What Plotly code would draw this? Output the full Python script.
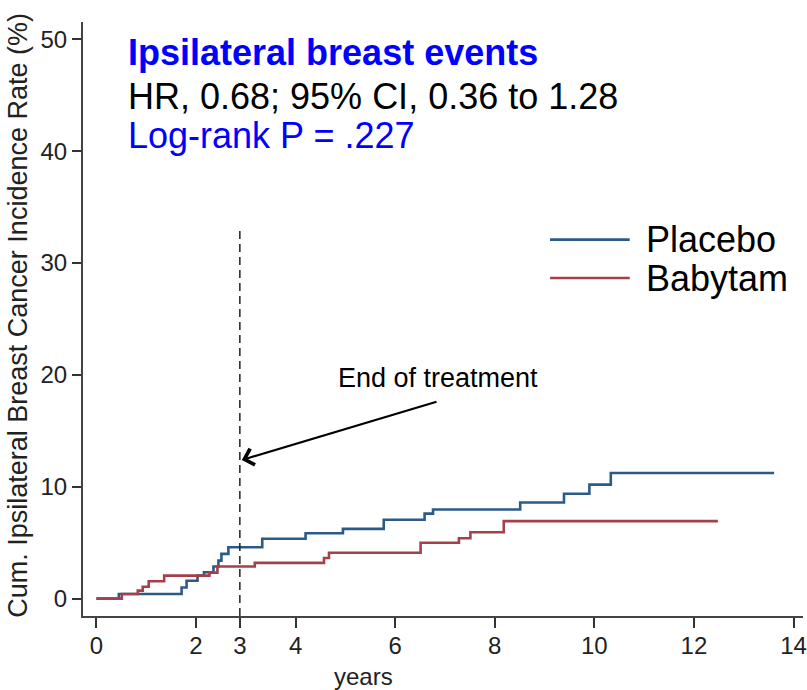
import plotly.graph_objects as go

# ---- data ----
placebo_t = [0, 0.45, 1.71, 1.81, 2.03, 2.16, 2.35, 2.45, 2.51, 2.65, 3.33, 4.20, 4.95, 5.77, 6.59, 6.76, 8.51, 9.39, 9.90, 10.33, 13.61]
placebo_v = [0, 0.42, 1.00, 1.60, 2.06, 2.36, 2.87, 3.40, 4.00, 4.60, 5.35, 5.85, 6.24, 7.05, 7.60, 7.97, 8.60, 9.38, 10.19, 11.23, 11.23]

babytam_t = [0, 0.51, 0.83, 0.93, 1.05, 1.36, 2.27, 2.43, 3.18, 4.57, 4.67, 6.51, 7.28, 7.51, 8.18, 12.48]
babytam_v = [0, 0.42, 0.72, 1.07, 1.55, 2.06, 2.33, 2.87, 3.20, 3.64, 4.10, 5.00, 5.40, 5.94, 6.93, 6.93]

series_names = ["Placebo", "Babytam"]
end_of_treatment = 2.88          # position of the "3" mark / dashed line as drawn
x_tickvals = [0, 2, end_of_treatment, 4, 6, 8, 10, 12, 14]
x_ticktext = ["0", "2", "3", "4", "6", "8", "10", "12", "14"]
y_ticks = [0, 10, 20, 30, 40, 50]
title_lines = ["Ipsilateral breast events", "HR, 0.68; 95% CI, 0.36 to 1.28", "Log-rank P = .227"]

BLUE = "#2b5a89"
RED = "#a5404b"
FONT = "Liberation Sans, Arial, Helvetica, sans-serif"

fig = go.Figure()
fig.add_trace(go.Scatter(x=placebo_t, y=placebo_v, mode="lines", line_shape="hv",
                         line=dict(color=BLUE, width=2.6), name=series_names[0], showlegend=False))
fig.add_trace(go.Scatter(x=babytam_t, y=babytam_v, mode="lines", line_shape="hv",
                         line=dict(color=RED, width=2.6), name=series_names[1], showlegend=False))

# end of treatment dashed line
fig.add_shape(type="line", x0=end_of_treatment, x1=end_of_treatment, y0=-1.55, y1=33.1,
              xref="x", yref="y", line=dict(color="#222222", width=1.5, dash="8px,5px"))

# manual legend
leg_y = [32.1, 28.66]
leg_col = [BLUE, RED]
for name, yy, c in zip(series_names, leg_y, leg_col):
    fig.add_shape(type="line", x0=9.11, x1=10.71, y0=yy, y1=yy, xref="x", yref="y",
                  line=dict(color=c, width=2.6))
    fig.add_annotation(x=11.0, y=yy, xref="x", yref="y", text=name, showarrow=False,
                       xanchor="left", yanchor="middle",
                       font=dict(family=FONT, size=36, color="black"))

# title block
fig.add_annotation(x=0.6, y=48.8, xref="x", yref="y", text="<b>" + title_lines[0] + "</b>",
                   showarrow=False, xanchor="left", yanchor="middle",
                   font=dict(family=FONT, size=36, color="#0000ff"))
fig.add_annotation(x=0.6, y=44.9, xref="x", yref="y", text=title_lines[1],
                   showarrow=False, xanchor="left", yanchor="middle",
                   font=dict(family=FONT, size=36, color="black"))
fig.add_annotation(x=0.6, y=41.4, xref="x", yref="y", text=title_lines[2],
                   showarrow=False, xanchor="left", yanchor="middle",
                   font=dict(family=FONT, size=36, color="#0000ff"))

# End of treatment arrow + label
fig.add_annotation(x=2.92, y=12.4, ax=6.86, ay=17.64, xref="x", yref="y", axref="x", ayref="y",
                   text="", showarrow=True, arrowhead=4, arrowsize=1.5, arrowwidth=2.2,
                   arrowcolor="black")
fig.add_annotation(x=6.86, y=19.7, xref="x", yref="y", text="End of treatment",
                   showarrow=False, xanchor="center", yanchor="middle",
                   font=dict(family=FONT, size=27, color="black"))

# axis titles
fig.add_annotation(x=-0.0898, y=0.506, xref="paper", yref="paper",
                   text="Cum. Ipsilateral Breast Cancer Incidence Rate (%)", textangle=-90,
                   showarrow=False, xanchor="center", yanchor="middle",
                   font=dict(family=FONT, size=27, color="#222222"))
fig.add_annotation(x=0.3895, y=-0.102, xref="paper", yref="paper", text="years",
                   showarrow=False, xanchor="center", yanchor="middle",
                   font=dict(family=FONT, size=24, color="#222222"))

fig.update_layout(
    width=807, height=690,
    margin=dict(l=83, r=0, t=22, b=74),
    paper_bgcolor="white", plot_bgcolor="white",
    showlegend=False,
)
fig.update_xaxes(range=[-0.27, 14.19], tickvals=x_tickvals, ticktext=x_ticktext,
                 showgrid=False, zeroline=False, showline=True, linecolor="#444444", linewidth=2,
                 ticks="outside", ticklen=10, tickwidth=2, tickcolor="#333333",
                 ticklabeloverflow="allow", ticklabelstandoff=-3,
                 tickfont=dict(family=FONT, size=24, color="#222222"))
fig.update_yaxes(range=[-1.55, 51.55], tickvals=y_ticks, ticktext=[str(v) for v in y_ticks],
                 showgrid=False, zeroline=False, showline=True, linecolor="#444444", linewidth=2,
                 ticks="outside", ticklen=9, tickwidth=2, tickcolor="#333333",
                 tickfont=dict(family=FONT, size=24, color="#222222"))

fig.write_html("out.html")
